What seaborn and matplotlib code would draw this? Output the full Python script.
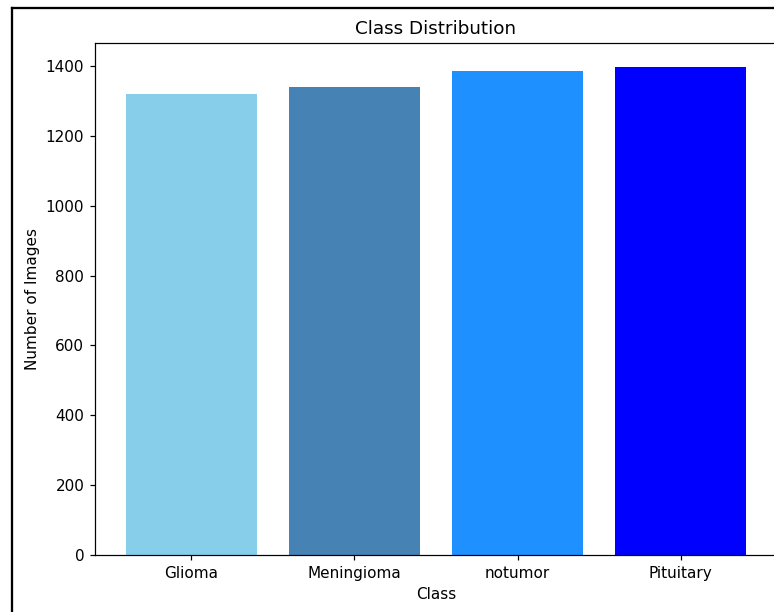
import seaborn as sns
import matplotlib.pyplot as plt
from matplotlib.lines import Line2D

classes = ["Glioma", "Meningioma", "notumor", "Pituitary"]
counts = [1321, 1339, 1385, 1396]
colors = ["skyblue", "steelblue", "dodgerblue", "blue"]

dpi = 110
fig = plt.figure(figsize=(774 / dpi, 612 / dpi), dpi=dpi)
ax = fig.add_axes([95 / 774, 57 / 612, 682 / 774, 512 / 612])

sns.barplot(x=classes, y=counts, hue=classes, palette=colors,
            saturation=1, width=0.8, legend=False, ax=ax)
ax.set_xlim(-0.59, 3.59)
ax.set_ylim(0, max(counts) * 1.05)
ax.set_title("Class Distribution", fontsize=12)
ax.set_xlabel("Class")
ax.set_ylabel("Number of Images")

# screenshot frame (left and top edges only; the rest was cropped)
fx, fy = 12 / 774, 1 - 7.5 / 612
fig.add_artist(Line2D([fx, fx], [0, fy], transform=fig.transFigure,
                      color="black", linewidth=1.5))
fig.add_artist(Line2D([fx, 1], [fy, fy], transform=fig.transFigure,
                      color="black", linewidth=1.5))

fig.savefig("out.png", dpi=dpi)
